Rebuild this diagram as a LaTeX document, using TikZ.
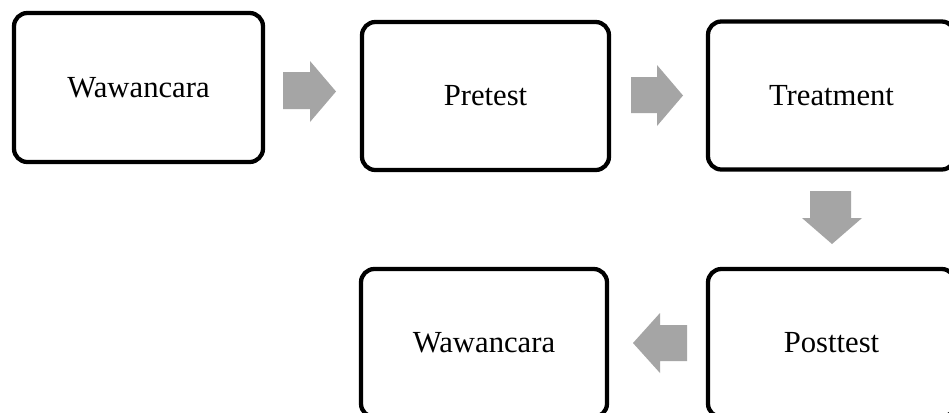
\documentclass[tikz,border=0pt]{standalone}
\usepackage{fontspec}
\setmainfont{Liberation Serif}
\definecolor{arrowgray}{HTML}{A5A5A5}
\begin{document}
\begin{tikzpicture}[x=0.75pt,y=-0.75pt,
  stepbox/.style={draw=black, line width=3.2pt, rounded corners=10pt, fill=white,
    minimum width=#1*0.75pt, minimum height=148*0.75pt, inner sep=0pt,
    font=\fontsize{23}{27}\selectfont},
  blockarrow/.style={fill=arrowgray, draw=none}]
\useasboundingbox (0,0) rectangle (949,412);
\clip (0,0) rectangle (949,412);
\fill[white] (0,0) rectangle (949,412);
\node[stepbox=249, minimum height=149*0.75pt] (a) at (138.5,87.5) {Wawancara};
\node[stepbox=247] (b) at (485.5,96) {Pretest};
\node[stepbox=247] (c) at (831.5,95.5) {Treatment};
\node[stepbox=247] (e) at (831.5,343) {Posttest};
\node[stepbox=246] (d) at (484,343) {Wawancara};
% block arrows
\fill[blockarrow] (283,72) -- (310,72) -- (310,61) -- (336,91.5) -- (310,122) -- (310,109) -- (283,109) -- cycle;
\fill[blockarrow] (631,77) -- (657,77) -- (657,65) -- (683,95.5) -- (657,126) -- (657,113) -- (631,113) -- cycle;
\fill[blockarrow] (810,191) -- (851,191) -- (851,218) -- (862,218) -- (832,244) -- (802,218) -- (810,218) -- cycle;
\fill[blockarrow] (687,325) -- (660,325) -- (660,313) -- (633,343) -- (660,373) -- (660,361) -- (687,361) -- cycle;
\end{tikzpicture}
\end{document}
